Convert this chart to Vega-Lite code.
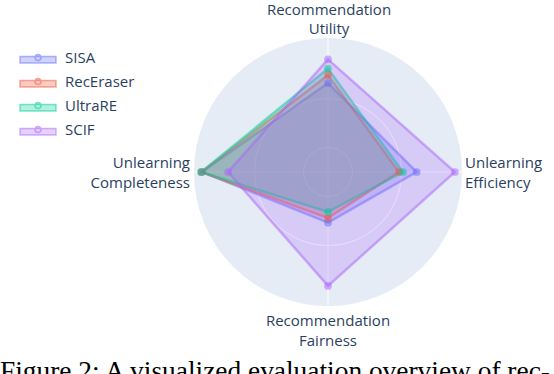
{
  "$schema": "https://vega.github.io/schema/vega-lite/v6.json",
  "width": 268,
  "height": 268,
  "autosize": {"type": "none"},
  "padding": {"left": 194, "top": 38, "right": 92, "bottom": 68},
  "background": "white",
  "config": {"view": {"stroke": null}},
  "datasets": {
    "scores": [
      {"method": "SISA", "metric": "Utility", "idx": 0, "value": 3.63},
      {"method": "SISA", "metric": "Efficiency", "idx": 1, "value": 3.62},
      {"method": "SISA", "metric": "Fairness", "idx": 2, "value": 2.07},
      {"method": "SISA", "metric": "Completeness", "idx": 3, "value": 5.15},
      {"method": "RecEraser", "metric": "Utility", "idx": 0, "value": 3.96},
      {"method": "RecEraser", "metric": "Efficiency", "idx": 1, "value": 2.9},
      {"method": "RecEraser", "metric": "Fairness", "idx": 2, "value": 1.88},
      {"method": "RecEraser", "metric": "Completeness", "idx": 3, "value": 5.17},
      {"method": "UltraRE", "metric": "Utility", "idx": 0, "value": 4.22},
      {"method": "UltraRE", "metric": "Efficiency", "idx": 1, "value": 3.06},
      {"method": "UltraRE", "metric": "Fairness", "idx": 2, "value": 1.63},
      {"method": "UltraRE", "metric": "Completeness", "idx": 3, "value": 5.18},
      {"method": "SCIF", "metric": "Utility", "idx": 0, "value": 4.6},
      {"method": "SCIF", "metric": "Efficiency", "idx": 1, "value": 5.18},
      {"method": "SCIF", "metric": "Fairness", "idx": 2, "value": 4.65},
      {"method": "SCIF", "metric": "Completeness", "idx": 3, "value": 4.08}
    ],
    "grid": [{"r": 1}, {"r": 2}, {"r": 3}, {"r": 4}, {"r": 5}],
    "disk": [{"r": 5.47}],
    "axes": [
      {"label": "Recommendation\nUtility", "idx": 0},
      {"label": "Unlearning\nEfficiency", "idx": 1},
      {"label": "Recommendation\nFairness", "idx": 2},
      {"label": "Unlearning\nCompleteness", "idx": 3}
    ],
    "caption": [{"text": "Figure 2: A visualized evaluation overview of rec-"}]
  },
  "layer": [
    {
      "data": {"name": "disk"},
      "mark": {"type": "arc", "fill": "#E5ECF6", "x": {"expr": "width/2"}, "y": {"expr": "height/2"}},
      "encoding": {
        "theta": {"value": 0},
        "theta2": {"value": 6.2832},
        "radius": {"field": "r", "type": "quantitative", "scale": {"type": "linear", "domain": [0, 5.47], "range": [0, 134], "zero": true, "nice": false}}
      }
    },
    {
      "data": {"name": "grid"},
      "mark": {"type": "arc", "fill": null, "stroke": "white", "strokeWidth": 1, "x": {"expr": "width/2"}, "y": {"expr": "height/2"}},
      "encoding": {
        "theta": {"value": 0},
        "theta2": {"value": 6.2832},
        "radius": {"field": "r", "type": "quantitative"}
      }
    },
    {
      "data": {"name": "axes"},
      "transform": [
        {"calculate": "5.47 * sin(datum.idx * PI / 2)", "as": "ex"},
        {"calculate": "5.47 * cos(datum.idx * PI / 2)", "as": "ey"},
        {"calculate": "0", "as": "zero"}
      ],
      "mark": {"type": "rule", "stroke": "white", "strokeWidth": 1},
      "encoding": {
        "x": {"field": "zero", "type": "quantitative", "scale": {"domain": [-5.47, 5.47], "nice": false, "zero": false}, "axis": null},
        "y": {"field": "zero", "type": "quantitative", "scale": {"domain": [-5.47, 5.47], "nice": false, "zero": false}, "axis": null},
        "x2": {"field": "ex"},
        "y2": {"field": "ey"}
      }
    },
    {
      "data": {"name": "scores"},
      "transform": [
        {"calculate": "datum.value * sin(datum.idx * PI / 2)", "as": "px"},
        {"calculate": "datum.value * cos(datum.idx * PI / 2)", "as": "py"}
      ],
      "mark": {"type": "line", "interpolate": "linear-closed", "strokeWidth": 2.5, "strokeOpacity": 0.5, "fillOpacity": 0.25},
      "encoding": {
        "x": {"field": "px", "type": "quantitative", "scale": {"domain": [-5.47, 5.47], "nice": false, "zero": false}, "axis": null},
        "y": {"field": "py", "type": "quantitative", "scale": {"domain": [-5.47, 5.47], "nice": false, "zero": false}, "axis": null},
        "order": {"field": "idx", "type": "quantitative"},
        "stroke": {
          "field": "method", "type": "nominal",
          "scale": {"domain": ["SISA", "RecEraser", "UltraRE", "SCIF"], "range": ["#636efa", "#EF553B", "#00cc96", "#ab63fa"]},
          "legend": {
            "title": null, "orient": "none", "legendX": -163.5, "legendY": 12, "padding": 0,
            "symbolType": "M-3,-0.15H3V0.9H-3Z M0.5,0A0.5,0.5 0 1,1 -0.5,0A0.5,0.5 0 1,1 0.5,0Z",
            "symbolSize": 144, "symbolStrokeWidth": 1.5, "labelOffset": 19.5, "rowPadding": 8,
            "labelFont": "Open Sans", "labelFontSize": 15, "labelColor": "#2a3f5f",
            "encode": {"symbols": {"update": {"fillOpacity": {"value": 0.3}, "strokeOpacity": {"value": 0.5}}}}
          }
        },
        "fill": {
          "field": "method", "type": "nominal",
          "scale": {"domain": ["SISA", "RecEraser", "UltraRE", "SCIF"], "range": ["#636efa", "#EF553B", "#00cc96", "#ab63fa"]},
          "legend": {
            "title": null, "orient": "none", "legendX": -163.5, "legendY": 12, "padding": 0,
            "symbolType": "M-3,-0.15H3V0.9H-3Z M0.5,0A0.5,0.5 0 1,1 -0.5,0A0.5,0.5 0 1,1 0.5,0Z",
            "symbolSize": 144, "symbolStrokeWidth": 1.5, "labelOffset": 19.5, "rowPadding": 8,
            "labelFont": "Open Sans", "labelFontSize": 15, "labelColor": "#2a3f5f",
            "encode": {"symbols": {"update": {"fillOpacity": {"value": 0.3}, "strokeOpacity": {"value": 0.5}}}}
          }
        }
      }
    },
    {
      "data": {"name": "scores"},
      "transform": [
        {"calculate": "datum.value * sin(datum.idx * PI / 2)", "as": "px"},
        {"calculate": "datum.value * cos(datum.idx * PI / 2)", "as": "py"}
      ],
      "mark": {"type": "point", "filled": true, "opacity": 0.5, "size": 60, "shape": "circle"},
      "encoding": {
        "x": {"field": "px", "type": "quantitative"},
        "y": {"field": "py", "type": "quantitative"},
        "color": {
          "field": "method", "type": "nominal",
          "scale": {"domain": ["SISA", "RecEraser", "UltraRE", "SCIF"], "range": ["#636efa", "#EF553B", "#00cc96", "#ab63fa"]},
          "legend": null
        }
      }
    },
    {
      "data": {"name": "axes"},
      "transform": [
        {"filter": "datum.idx == 0"},
        {"calculate": "5.47 * sin(datum.idx * PI / 2)", "as": "ex"},
        {"calculate": "5.47 * cos(datum.idx * PI / 2)", "as": "ey"}
      ],
      "mark": {"type": "text", "lineBreak": "\n", "align": "center", "baseline": "middle", "dy": -28, "dx": 1, "font": "Open Sans", "fontSize": 15, "color": "#2a3f5f", "lineHeight": 19},
      "encoding": {"x": {"field": "ex", "type": "quantitative"}, "y": {"field": "ey", "type": "quantitative"}, "text": {"field": "label", "type": "nominal"}}
    },
    {
      "data": {"name": "axes"},
      "transform": [
        {"filter": "datum.idx == 2"},
        {"calculate": "5.47 * sin(datum.idx * PI / 2)", "as": "ex"},
        {"calculate": "5.47 * cos(datum.idx * PI / 2)", "as": "ey"}
      ],
      "mark": {"type": "text", "lineBreak": "\n", "align": "center", "baseline": "middle", "dy": 15, "font": "Open Sans", "fontSize": 15, "color": "#2a3f5f", "lineHeight": 20},
      "encoding": {"x": {"field": "ex", "type": "quantitative"}, "y": {"field": "ey", "type": "quantitative"}, "text": {"field": "label", "type": "nominal"}}
    },
    {
      "data": {"name": "axes"},
      "transform": [
        {"filter": "datum.idx == 1"},
        {"calculate": "5.47 * sin(datum.idx * PI / 2)", "as": "ex"},
        {"calculate": "5.47 * cos(datum.idx * PI / 2)", "as": "ey"}
      ],
      "mark": {"type": "text", "lineBreak": "\n", "align": "left", "baseline": "middle", "dx": 3, "dy": -9, "font": "Open Sans", "fontSize": 15, "color": "#2a3f5f", "lineHeight": 20},
      "encoding": {"x": {"field": "ex", "type": "quantitative"}, "y": {"field": "ey", "type": "quantitative"}, "text": {"field": "label", "type": "nominal"}}
    },
    {
      "data": {"name": "axes"},
      "transform": [
        {"filter": "datum.idx == 3"},
        {"calculate": "5.47 * sin(datum.idx * PI / 2)", "as": "ex"},
        {"calculate": "5.47 * cos(datum.idx * PI / 2)", "as": "ey"}
      ],
      "mark": {"type": "text", "lineBreak": "\n", "align": "right", "baseline": "middle", "dx": -4, "dy": -9, "font": "Open Sans", "fontSize": 15, "color": "#2a3f5f", "lineHeight": 20},
      "encoding": {"x": {"field": "ex", "type": "quantitative"}, "y": {"field": "ey", "type": "quantitative"}, "text": {"field": "label", "type": "nominal"}}
    },
    {
      "data": {"name": "caption"},
      "mark": {"type": "text", "align": "left", "baseline": "alphabetic", "font": "Liberation Serif", "fontSize": 27.4, "color": "black"},
      "encoding": {
        "x": {"datum": -13.39, "type": "quantitative", "scale": {"domain": [-5.47, 5.47], "nice": false, "zero": false}},
        "y": {"datum": -8.49, "type": "quantitative", "scale": {"domain": [-5.47, 5.47], "nice": false, "zero": false}},
        "text": {"field": "text", "type": "nominal"}
      }
    }
  ]
}
